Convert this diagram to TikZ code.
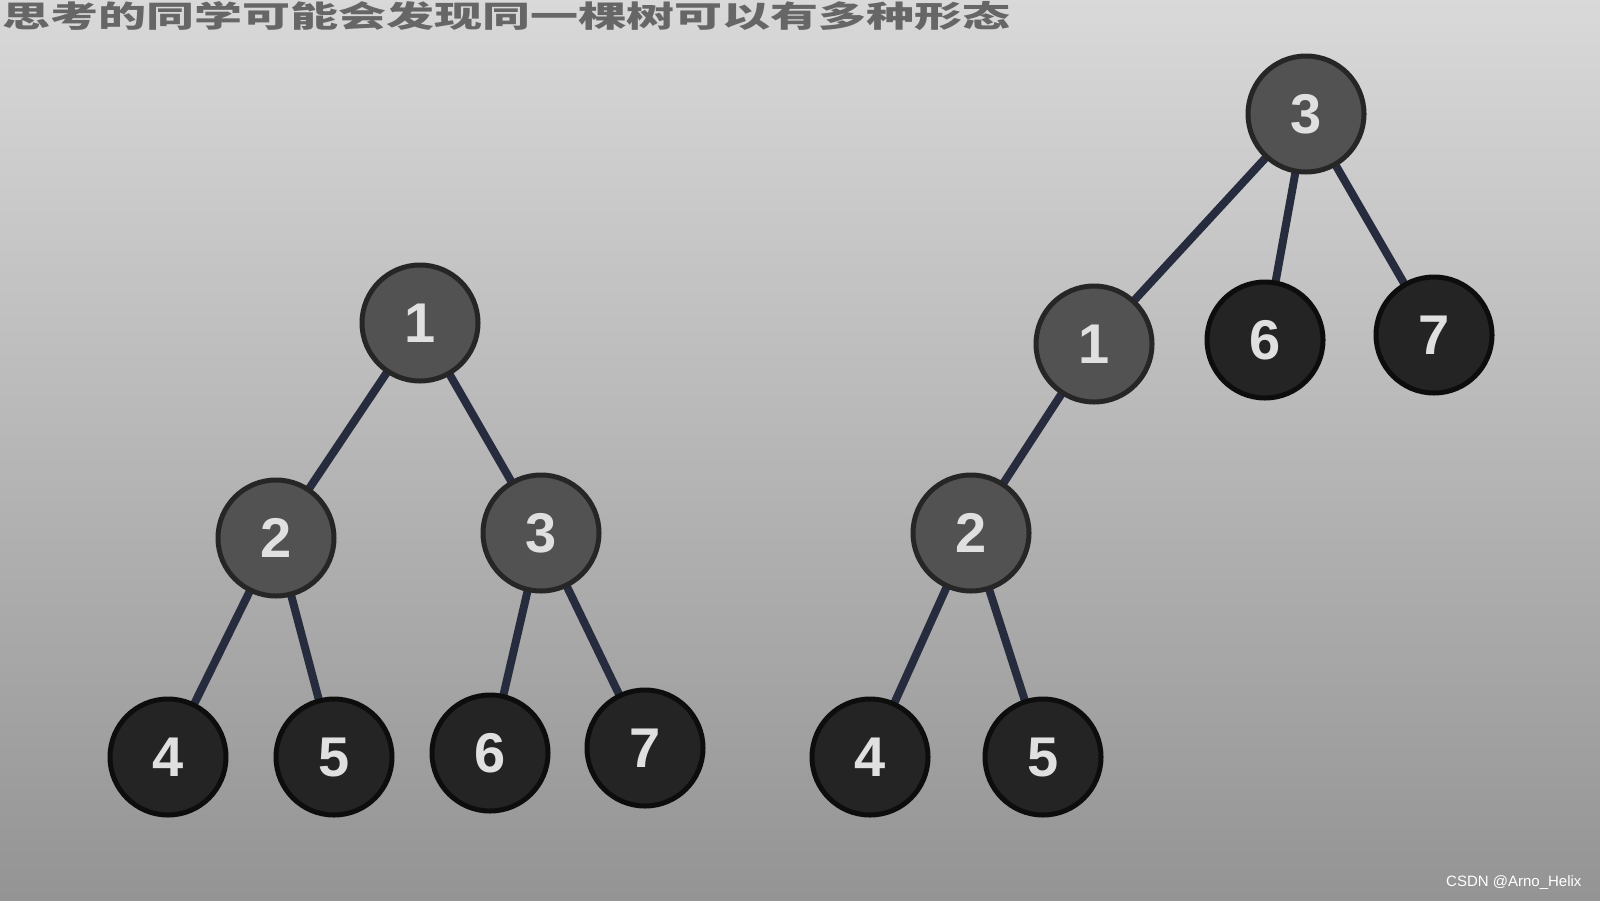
\documentclass[tikz,border=0pt]{standalone}
\usepackage{fontspec}
\setmainfont{Liberation Sans}
\newfontfamily\cjk{Noto Sans CJK SC}
\definecolor{edgecol}{RGB}{38,44,62}
\pgfdeclarelayer{bg}
\pgfdeclarelayer{edges}
\pgfsetlayers{bg,edges,main}
\begin{document}
\begin{tikzpicture}[x=1pt,y=-1pt,
  upper/.style={circle,minimum size=116pt,inner sep=0pt,fill=black!68,draw=black!85,line width=5pt,
     text=black!12,font=\bfseries\fontsize{56}{56}\selectfont},
  lower/.style={upper,fill=black!86,draw=black!95},
  edge/.style={line width=8pt,draw=edgecol}]
\useasboundingbox (0,0) rectangle (1600,900);
\begin{pgfonlayer}{bg}
\shade[top color=black!15, bottom color=black!42] (0,0) rectangle (1600,900);
\end{pgfonlayer}
\node[anchor=north west,inner sep=0pt,text=black!60,font=\cjk\bfseries\fontsize{30}{30}\selectfont] (hdr) at (2,1) {\scalebox{1.6}[1]{思考的同学可能会发现同一棵树可以有多种形态}};
% left tree
\node[upper] (a1) at (420,323) {1};
\node[upper] (a2) at (276,538) {2};
\node[upper] (a3) at (541,533) {3};
\node[lower] (a4) at (168,757) {4};
\node[lower] (a5) at (334,757) {5};
\node[lower] (a6) at (490,753) {6};
\node[lower] (a7) at (645,748) {7};
% right tree
\node[upper] (b3) at (1306,114) {3};
\node[upper] (b1) at (1094,344) {1};
\node[lower] (b6) at (1265,340) {6};
\node[lower] (b7) at (1434,335) {7};
\node[upper] (b2) at (971,533) {2};
\node[lower] (b4) at (870,757) {4};
\node[lower] (b5) at (1043,757) {5};
\begin{pgfonlayer}{edges}
\foreach \p/\c in {a1/a2,a1/a3,a2/a4,a2/a5,a3/a6,a3/a7,b3/b1,b3/b6,b3/b7,b1/b2,b2/b4,b2/b5}
  \draw[edge] (\p.center) -- (\c.center);
\end{pgfonlayer}
\node[anchor=south east,text=white,font=\fontsize{15}{15}\selectfont] (wm) at (1585,893) {CSDN @Arno\_Helix};
\end{tikzpicture}
\end{document}
